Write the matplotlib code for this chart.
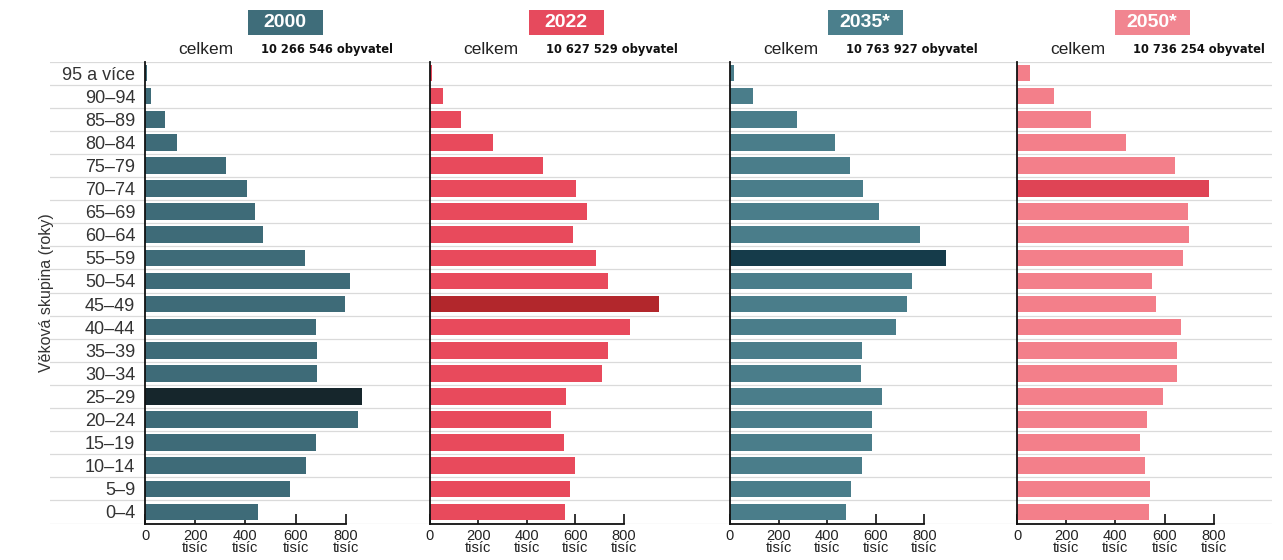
import matplotlib
matplotlib.use("Agg")
import matplotlib.pyplot as plt
from matplotlib.patches import Rectangle
import numpy as np

# ---- data (thousands of inhabitants), top row = oldest group ----
age_groups = ["95 a více", "90–94", "85–89", "80–84", "75–79", "70–74", "65–69",
              "60–64", "55–59", "50–54", "45–49", "40–44", "35–39", "30–34",
              "25–29", "20–24", "15–19", "10–14", "5–9", "0–4"]

pop_2000 = [8, 24, 80, 126, 322, 406, 438, 471, 638, 815, 795, 683, 686, 686,
            863, 850, 681, 641, 576, 451]
pop_2022 = [10, 52, 128, 262, 467, 603, 649, 590, 685, 737, 945, 826, 736, 709,
            562, 498, 552, 599, 579, 557]
pop_2035 = [16, 96, 274, 433, 493, 548, 612, 781, 890, 751, 729, 685, 542, 540,
            625, 586, 584, 542, 496, 479]
pop_2050 = [51, 150, 301, 442, 643, 782, 696, 700, 673, 550, 564, 666, 650, 650,
            593, 527, 500, 520, 541, 536]

years = ["2000", "2022", "2035*", "2050*"]
totals = ["10 266 546", "10 627 529", "10 763 927", "10 736 254"]
highlight = ["25–29", "45–49", "55–59", "70–74"]

tick_values = [0, 200, 400, 600, 800]
tick_labels = ["0", "200\ntisíc", "400\ntisíc", "600\ntisíc", "800\ntisíc"]

# ---- styling ----
W, H = 1283, 560
fig = plt.figure(figsize=(W / 100, H / 100), dpi=100)
fig.patch.set_facecolor("white")

base_font = ["Liberation Sans", "DejaVu Sans"]
cond_font = "DejaVu Sans"

bar_colors = ["#3e6b78", "#e84a5c", "#4a7d8a", "#f37f8a"]
hi_colors = ["#16262c", "#b2272c", "#153b4a", "#df4455"]
box_colors = ["#3f6d7a", "#e64a5d", "#4b7f8c", "#f18590"]

ax_left_px = [145, 430, 730, 1017]
ax_width_px = [251, 242, 243, 246]
box_center_px = [285, 566, 865, 1152]
ax_bottom_px = 36.5
ax_height_px = 462
n = len(age_groups)
ypos = np.arange(n)

# background separator lines
bg = fig.add_axes([50 / W, ax_bottom_px / H, 1222 / W, ax_height_px / H], zorder=0)
bg.set_xlim(0, 1)
bg.set_ylim(n - 0.5, -0.5)
bg.axis("off")
for b in np.arange(-0.5, n, 1.0):
    bg.axhline(b, color="#dadada", lw=0.9)

series = [pop_2000, pop_2022, pop_2035, pop_2050]
for i, vals in enumerate(series):
    ax = fig.add_axes([ax_left_px[i] / W, ax_bottom_px / H,
                       ax_width_px[i] / W, ax_height_px / H], zorder=2)
    ax.set_facecolor("none")
    colors = [hi_colors[i] if g == highlight[i] else bar_colors[i] for g in age_groups]
    ax.barh(ypos, vals, height=0.72, color=colors, zorder=3)
    ax.set_xlim(0, 1000)
    ax.set_ylim(n - 0.5, -0.5)
    for s in ["top", "right"]:
        ax.spines[s].set_visible(False)
    ax.spines["left"].set_color("#111111")
    ax.spines["left"].set_linewidth(1.3)
    ax.spines["bottom"].set_color("#111111")
    ax.spines["bottom"].set_linewidth(1.3)
    ax.spines["bottom"].set_bounds(0, 800)
    ax.spines["left"].set_zorder(5)
    ax.spines["bottom"].set_zorder(5)
    ax.set_xticks(tick_values)
    ax.set_xticklabels(tick_labels, fontsize=10.5, family=base_font,
                       linespacing=0.85, color="#222222")
    ax.tick_params(axis="x", direction="in", length=7, width=1.2, pad=4,
                   color="#111111")
    ax.tick_params(axis="y", length=0)
    if i == 0:
        ax.set_yticks(ypos)
        ax.set_yticklabels(age_groups, fontsize=13, family=base_font,
                           color="#333333")
        ax.tick_params(axis="y", pad=7)
        ax.set_ylabel("Věková skupina (roky)", fontsize=11.5, family=base_font,
                      color="#333333", labelpad=6)
    else:
        ax.set_yticks([])

    # year box
    cx = box_center_px[i]
    fig.patches.append(Rectangle(((cx - 37.5) / W, 1 - 35 / H), 75 / W, 25 / H,
                                 transform=fig.transFigure, fc=box_colors[i],
                                 ec="none", zorder=1))
    fig.text(cx / W, 1 - 22.5 / H, years[i], ha="center", va="center",
             fontsize=14, fontweight="bold", color="white", family=base_font,
             zorder=2)
    # totals line
    fig.text((ax_left_px[i] + 33) / W, 1 - 49 / H, "celkem", ha="left",
             va="center", fontsize=12.5, family=base_font, color="#222222")
    fig.text((ax_left_px[i] + 116) / W, 1 - 49 / H, totals[i] + " obyvatel",
             ha="left", va="center", fontsize=9.2, family=cond_font,
             fontweight="bold", fontstretch="condensed", color="#111111")

fig.savefig("out.png", dpi=100, facecolor="white")
